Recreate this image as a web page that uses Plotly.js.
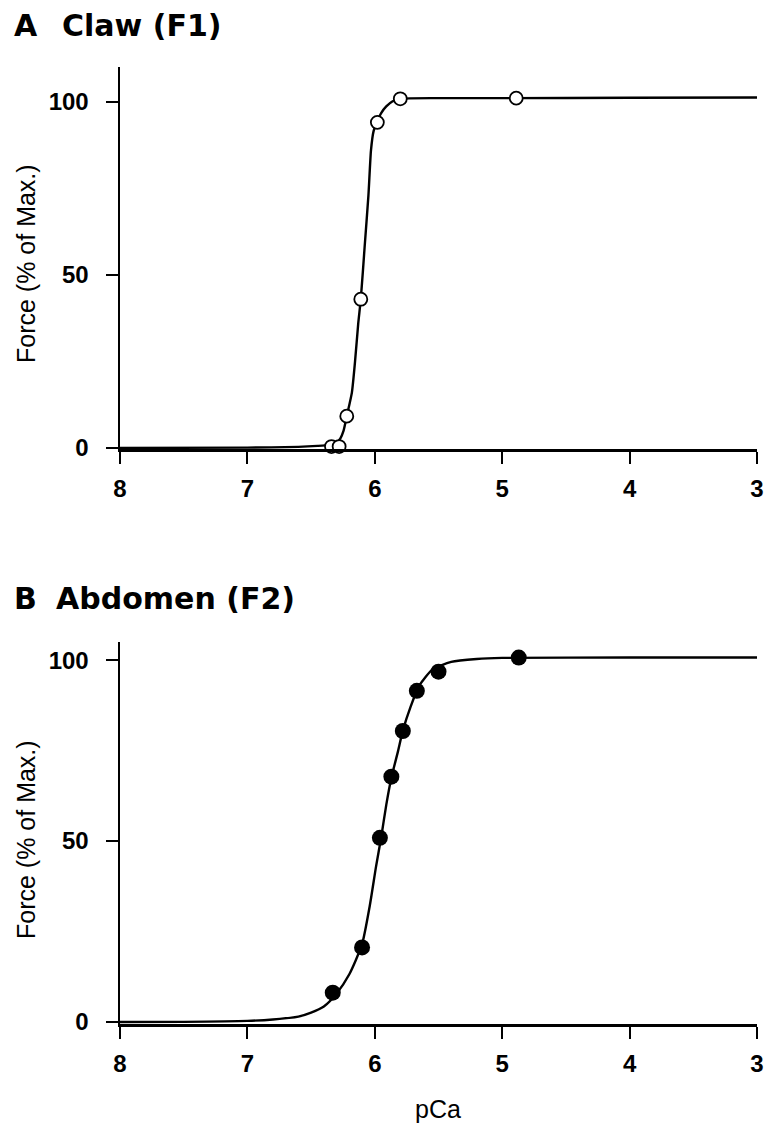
<!DOCTYPE html>
<html>
<head>
<meta charset="utf-8">
<script src="https://cdn.plot.ly/plotly-3.0.1.min.js"></script>
<style>html,body{margin:0;padding:0;background:#fff;}#chart{width:764px;height:1125px;}</style>
</head>
<body>
<div id="chart"></div>
<script>
// ---- data ----
const pCaTicks = [8, 7, 6, 5, 4, 3];
const forceTicks = [0, 50, 100];

// Panel A: Claw (F1) – open circles
const clawPCa   = [6.34, 6.28, 6.22, 6.11, 5.98, 5.80, 4.89];
const clawForce = [0.4, 0.4, 9.2, 43, 94.1, 100.9, 101.1];
const clawFitPCa   = [8.0, 7.0, 6.6, 6.45, 6.36, 6.30, 6.27, 6.245, 6.22, 6.18, 6.155, 6.13, 6.11, 6.08, 6.05, 6.03, 6.01, 5.98, 5.95, 5.91, 5.86, 5.80, 5.5, 5.0, 4.0, 3.0];
const clawFitForce = [0.0, 0.1, 0.3, 0.6, 0.9, 1.5, 2.8, 5.0, 9.2, 16, 25, 36, 43, 58, 73, 86, 91.5, 94.5, 96.8, 98.7, 100.2, 100.9, 101.1, 101.1, 101.2, 101.3];

// Panel B: Abdomen (F2) – filled circles
const abdPCa   = [6.33, 6.10, 5.96, 5.87, 5.78, 5.67, 5.50, 4.87];
const abdForce = [8.1, 20.6, 50.9, 67.8, 80.4, 91.5, 96.8, 100.7];
const abdFitPCa   = [8.0, 7.5, 7.0, 6.8, 6.6, 6.5, 6.4, 6.3, 6.2, 6.1, 6.04, 5.99, 5.95, 5.91, 5.87, 5.82, 5.78, 5.72, 5.65, 5.55, 5.4, 5.2, 5.0, 4.0, 3.0];
const abdFitForce = [0.0, 0.05, 0.3, 0.7, 1.5, 2.6, 4.3, 7.9, 13.2, 21.5, 32, 43, 51, 60, 67.5, 74.5, 80.5, 87, 93, 97.3, 99.5, 100.3, 100.6, 100.7, 100.7];

// ---- layout helpers ----
const W = 764, H = 1125;
const L = 120, R = 7, T = 67, B = 101;
const pw = W - L - R, ph = H - T - B;
const px = X => (X - L) / pw;
const py = Y => (H - B - Y) / ph;

const lineStyle = {color: '#000', width: 2.4, shape: 'spline', smoothing: 0.6};

const traces = [
  {x: clawFitPCa, y: clawFitForce, xaxis: 'x', yaxis: 'y', mode: 'lines', line: lineStyle, hoverinfo: 'skip'},
  {x: clawPCa, y: clawForce, xaxis: 'x', yaxis: 'y', mode: 'markers', cliponaxis: false,
   marker: {symbol: 'circle', size: 13, color: '#fff', line: {color: '#000', width: 1.8}}},
  {x: abdFitPCa, y: abdFitForce, xaxis: 'x2', yaxis: 'y2', mode: 'lines', line: lineStyle, hoverinfo: 'skip'},
  {x: abdPCa, y: abdForce, xaxis: 'x2', yaxis: 'y2', mode: 'markers', cliponaxis: false,
   marker: {symbol: 'circle', size: 16, color: '#000', line: {color: '#000', width: 0}}}
];

const tickFont = {family: 'Liberation Sans, Arial, sans-serif', size: 24, color: '#000', weight: 'bold'};
const xAxisBase = {
  range: [8, 3], tickvals: pCaTicks, ticktext: pCaTicks.map(String),
  showline: true, linecolor: '#000', linewidth: 2.5,
  ticks: 'outside', ticklen: 12, tickwidth: 2, tickcolor: '#000',
  showgrid: false, zeroline: false, tickfont: tickFont, ticklabelstandoff: 5, fixedrange: true
};
const yAxisBase = {
  tickvals: forceTicks, ticktext: forceTicks.map(String),
  showline: true, linecolor: '#000', linewidth: 2.5,
  ticks: 'outside', ticklen: 12, tickwidth: 2, tickcolor: '#000',
  showgrid: false, zeroline: false, tickfont: tickFont, ticklabelstandoff: 12, fixedrange: true
};

const titleFont = {family: 'DejaVu Sans, sans-serif', size: 30, color: '#000', weight: 'bold'};
const axTitleFont = {family: 'Liberation Sans, Arial, sans-serif', size: 25, color: '#000'};

const ann = (text, X, Y, font, extra) => Object.assign({
  text: text, xref: 'paper', yref: 'paper', x: px(X), y: py(Y),
  xanchor: 'left', yanchor: 'middle', showarrow: false, font: font
}, extra || {});

const layout = {
  width: W, height: H,
  margin: {l: L, r: R, t: T, b: B, pad: 0},
  paper_bgcolor: '#fff', plot_bgcolor: '#fff',
  showlegend: false,
  xaxis: Object.assign({}, xAxisBase, {domain: [0, 1], anchor: 'y'}),
  yaxis: Object.assign({}, yAxisBase, {domain: [py(449), 1], range: [-0.3, 110.1], anchor: 'x'}),
  xaxis2: Object.assign({}, xAxisBase, {domain: [0, 1], anchor: 'y2'}),
  yaxis2: Object.assign({}, yAxisBase, {domain: [0, py(642)], range: [-0.55, 105], anchor: 'x2'}),
  annotations: [
    ann('A', 12, 26, titleFont),
    ann('Claw (F1)', 60, 26, titleFont),
    ann('B', 12, 598, titleFont),
    ann('Abdomen (F2)', 54, 598, titleFont),
    ann('Force (% of Max.)', 26, 264, axTitleFont, {xanchor: 'center', textangle: -90}),
    ann('Force (% of Max.)', 26, 840, axTitleFont, {xanchor: 'center', textangle: -90}),
    ann('pCa', 438, 1109, axTitleFont, {xanchor: 'center'})
  ]
};

Plotly.newPlot('chart', traces, layout, {displayModeBar: false, staticPlot: true});
</script>
</body>
</html>
